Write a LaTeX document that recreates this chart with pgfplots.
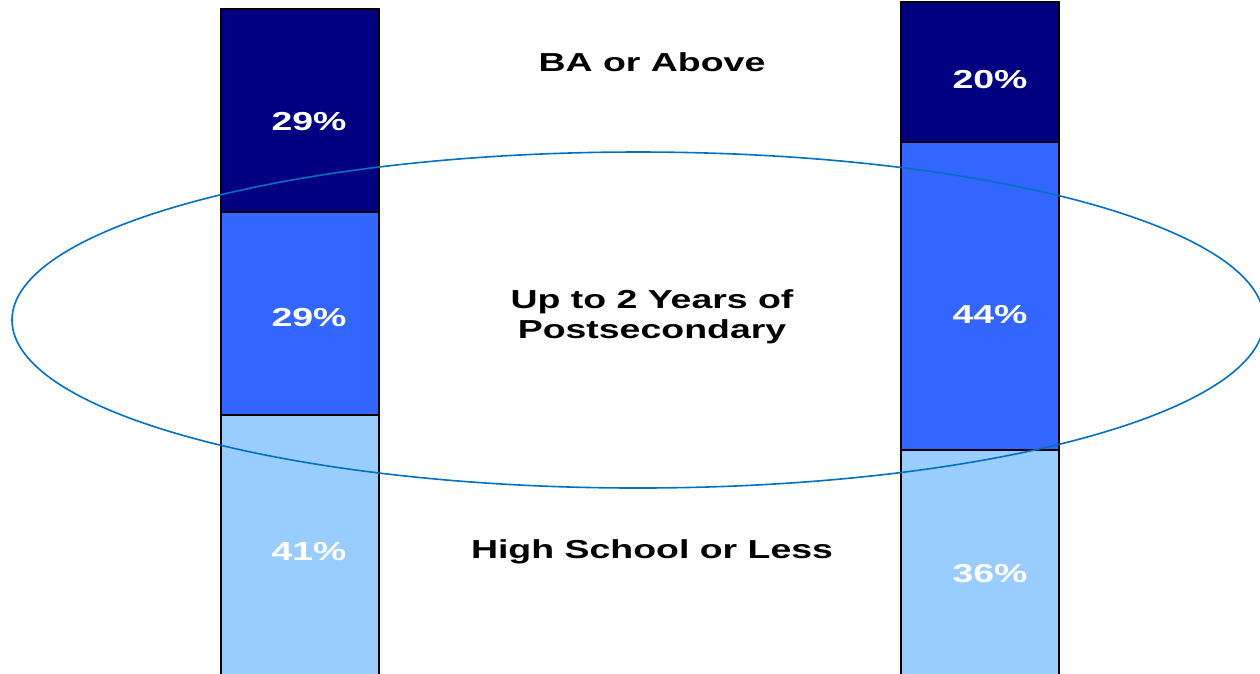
\documentclass[border=0pt]{standalone}
\usepackage{pgfplots}
\pgfplotsset{compat=1.18}
\usepackage{fontspec}
\setmainfont{Liberation Sans}
\usepackage{graphicx}
\definecolor{cTop}{HTML}{000080}
\definecolor{cMid}{HTML}{3366FF}
\definecolor{cLow}{HTML}{99CCFF}
\definecolor{cEll}{HTML}{0070C0}
\newcommand{\lbl}[1]{{\fontsize{26}{31}\selectfont\bfseries\scalebox{1.44}[1]{#1}}}
\begin{document}
\begin{tikzpicture}
\begin{axis}[
  hide axis,
  scale only axis,
  width=1260pt, height=702pt,
  xmin=0, xmax=1260,
  ymin=0, ymax=100.29,
  ybar stacked,
  bar width=158,
  clip=true,
]
\addplot[fill=cLow, draw=black, line width=2pt] coordinates {(300,41) (980,36)};
\addplot[fill=cMid, draw=black, line width=2pt] coordinates {(300,29) (980,44)};
\addplot[fill=cTop, draw=black, line width=2pt] coordinates {(300,29) (980,20)};
\coordinate (E) at (axis cs:638,54.57);
\coordinate (L1) at (axis cs:309,82.86);
\coordinate (L2) at (axis cs:309,54.86);
\coordinate (L3) at (axis cs:309,21.43);
\coordinate (R1) at (axis cs:990,88.86);
\coordinate (R2) at (axis cs:990,55.29);
\coordinate (R3) at (axis cs:990,18.29);
\coordinate (T1) at (axis cs:652,91.43);
\coordinate (T2) at (axis cs:652,57.2);
\coordinate (T3) at (axis cs:652,52.9);
\coordinate (T4) at (axis cs:652,21.4);
\end{axis}
\begin{scope}
\clip ([yshift=28pt]current axis.south west) rectangle (current axis.north east);
\draw[cEll, line width=1.6pt] (E) ellipse [x radius=626pt, y radius=168pt];
\end{scope}
\node[white] at (L1) {\lbl{29\%}};
\node[white] at (L2) {\lbl{29\%}};
\node[white] at (L3) {\lbl{41\%}};
\node[white] at (R1) {\lbl{20\%}};
\node[white] at (R2) {\lbl{44\%}};
\node[white] at (R3) {\lbl{36\%}};
\node[black] at (T1) {\lbl{BA or Above}};
\node[black] at (T2) {\lbl{Up to 2 Years of}};
\node[black] at (T3) {\lbl{Postsecondary}};
\node[black] at (T4) {\lbl{High School or Less}};
\pgfresetboundingbox
\path[use as bounding box] ([yshift=28pt]current axis.south west) rectangle (current axis.north east);
\end{tikzpicture}
\end{document}
